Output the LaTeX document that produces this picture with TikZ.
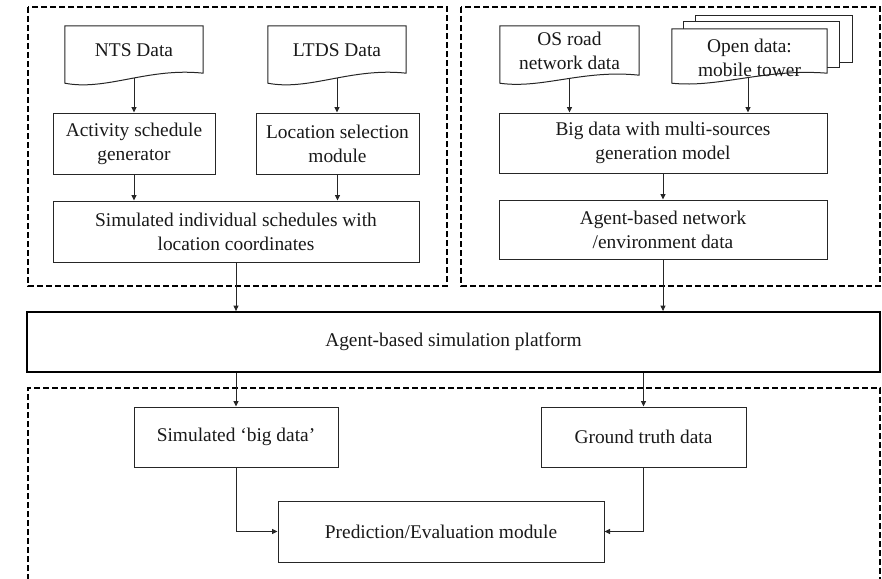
\documentclass[tikz,border=0pt]{standalone}
\usepackage{fontspec}
\setmainfont{Liberation Serif}
\usetikzlibrary{calc,arrows.meta}
\pgfdeclarelayer{background}
\pgfsetlayers{background,main}
\newcommand\docoutline[5]{%
  \draw[docline] (#1.north west) -- (#1.north east) -- ($(#1.south east)+(0,#5)$)
    .. controls ($(#1.south west)!0.6!(#1.south east)+(0,#4)$) and ($(#1.south west)!0.3!(#1.south east)+(0,#3)$)
    .. ($(#1.south west)+(0,#2)$) -- cycle;}
\begin{document}
\begin{tikzpicture}[x=1pt,y=-1pt,
  txt/.style={inner sep=0pt, align=center, font=\fontsize{19.4}{24}\selectfont, text=black!90},
  box/.style={txt, draw=black!85, line width=1pt},
  docnode/.style={txt},
  docline/.style={draw=black!85, line width=1pt, fill=white},
  group/.style={draw=black, line width=2.4pt, dash pattern=on 6pt off 3pt},
  arr/.style={draw=black!85, line width=1pt, -{Triangle[length=5.5pt,width=5pt]}}]
\useasboundingbox (0,0) rectangle (882,578);
\clip (0,0) rectangle (882,578);

% group frames
\draw[group] (28,7) rectangle (447,286);
\draw[group] (461,7) rectangle (880,286);
\draw[group] (28,580) -- (28,388) -- (880,388) -- (880,580);

% left group
\node[docnode, minimum width=138, minimum height=48] (nts) at (134,50) {NTS Data};
\node[docnode, minimum width=138, minimum height=48] (ltds) at (337,50) {LTDS Data};
\node[box, minimum width=162, minimum height=61] (act) at (134,143.5) {Activity schedule\\generator};
\node[box, minimum width=163, minimum height=61] (loc) at (337.5,143.5) {Location selection\\module};
\node[box, minimum width=366, minimum height=61] (sim) at (236,231.5) {Simulated individual schedules with\\location coordinates};

% right group
\node[docnode, minimum width=139, minimum height=49] (os) at (569.5,50.5) {OS road\\network data};
\node[docnode, minimum width=155, minimum height=57] (open) at (749.5,57.5) {Open data:\\mobile tower};
\node[box, minimum width=328, minimum height=60] (big) at (663,143) {Big data with multi-sources\\generation model};
\node[box, minimum width=328, minimum height=59] (agn) at (663,229.5) {Agent-based network\\/environment data};

% document outlines
\begin{pgfonlayer}{background}
\docoutline{nts}{9}{17}{-7}{-1}
\docoutline{ltds}{9}{17}{-7}{-1}
\docoutline{os}{8}{14}{-6}{0}
\draw[docline] ($(open.north west)+(24,-13)$) rectangle ($(open.north east)+(25,34)$);
\draw[docline] ($(open.north west)+(12,-7)$) rectangle ($(open.north east)+(12,39)$);
\docoutline{open}{-3}{2}{-18}{-13}
\end{pgfonlayer}

% platform
\node[txt, draw=black, line width=1.8pt, minimum width=853, minimum height=60] (plat) at (453.5,342) {Agent-based simulation platform};

% bottom group
\node[box, minimum width=204, minimum height=60] (sbd) at (236,437) {Simulated `big data'};
\node[box, minimum width=205, minimum height=60] (gt) at (643.5,437) {Ground truth data};
\node[box, minimum width=326, minimum height=61] (pred) at (441,531.5) {Prediction/Evaluation module};

% connectors
\draw[arr] ([yshift=-4pt]nts.south) -- (nts.south |- act.north);
\draw[arr] ([yshift=-4pt]ltds.south) -- (ltds.south |- loc.north);
\draw[arr] (act.south) -- (act.south |- sim.north);
\draw[arr] (loc.south) -- (loc.south |- sim.north);
\draw[arr] ([yshift=-4pt]os.south) -- (os.south |- big.north);
\draw[arr] ([xshift=-1.5pt,yshift=8pt]open.south) -- ([xshift=-1.5pt]open.south |- big.north);
\draw[arr] (big.south) -- (agn.north);
\draw[arr] (sim.south) -- (sim.south |- plat.north);
\draw[arr] (agn.south) -- (agn.south |- plat.north);
\draw[arr] (plat.south -| sbd.north) -- (sbd.north);
\draw[arr] (plat.south -| gt.north) -- (gt.north);
\draw[arr] (sbd.south) |- (pred.west);
\draw[arr] (gt.south) |- (pred.east);
\end{tikzpicture}
\end{document}
